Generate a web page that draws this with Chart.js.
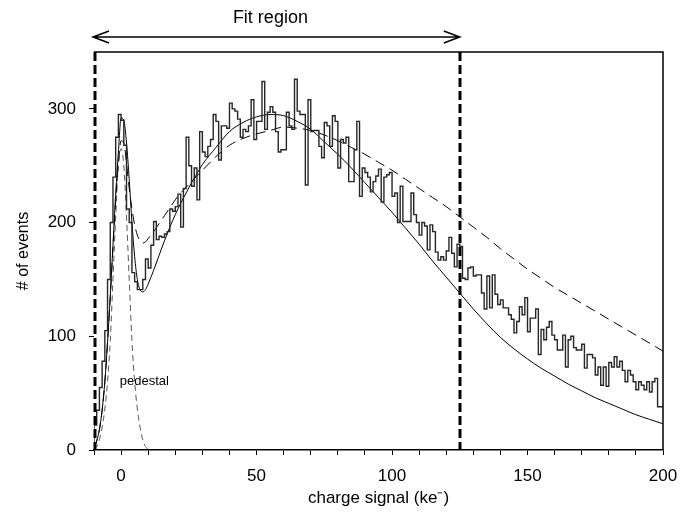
<!DOCTYPE html>
<html>
<head>
<meta charset="utf-8">
<script src="https://cdn.jsdelivr.net/npm/chart.js@4.4.1/dist/chart.umd.min.js"></script>
<style>
  html, body { margin: 0; padding: 0; background: #fff; }
  #wrap { width: 680px; height: 518px; position: relative; }
</style>
</head>
<body>
<div id="wrap"><canvas id="c" width="680" height="518"></canvas></div>
<script>
// ---- Data ----
// Histogram: counts per 1 ke- bin, bins starting at -10 ke-
const binStart = -10;
const binWidth = 1;
const counts = [
  8, 22, 35, 55, 78, 105, 150, 200, 240, 275,          // -10 .. -1
  295, 290, 268, 212, 200, 156, 148, 141, 141, 150,    // 0 .. 9
  168, 160, 180, 201, 185, 188, 187, 190, 192, 212,    // 10 .. 19
  210, 214, 225, 196, 230, 275, 250, 232, 248, 220,    // 20 .. 29
  280, 262, 258, 267, 273, 295, 289, 255, 285, 285,    // 30 .. 39
  283, 305, 300, 298, 291, 275, 282, 280, 285, 308,    // 40 .. 49
  273, 289, 289, 324, 282, 297, 302, 297, 280, 262,    // 50 .. 59
  264, 264, 297, 285, 282, 326, 298, 295, 295, 233,    // 60 .. 69
  308, 280, 281, 281, 267, 257, 288, 285, 267, 294,    // 70 .. 79
  289, 248, 273, 270, 275, 236, 236, 264, 289, 223,    // 80 .. 89
  248, 244, 240, 227, 236, 241, 247, 218, 240, 242,    // 90 .. 99
  244, 223, 226, 200, 232, 201, 201, 201, 226, 207,    // 100 .. 109
  200, 189, 200, 197, 176, 198, 192, 174, 167, 170,    // 110 .. 119
  167, 175, 187, 173, 161, 181, 179, 151, 150, 160,    // 120 .. 129
  161, 153, 154, 154, 138, 124, 153, 125, 154, 137,    // 130 .. 139
  128, 132, 125, 125, 119, 115, 103, 113, 126, 119,    // 140 .. 149
  134, 104, 116, 116, 124, 84, 106, 97, 108, 113,      // 150 .. 159
  101, 97, 88, 88, 101, 73, 97, 100, 90, 88,           // 160 .. 169
  88, 93, 72, 84, 84, 81, 66, 73, 57, 73,              // 170 .. 179
  56, 77, 73, 82, 73, 78, 70, 60, 70, 66,              // 180 .. 189
  60, 53, 60, 57, 53, 60, 51, 60, 63, 38               // 190 .. 199
];

// Fit curves (solid and dashed), sampled
const fitX = [-10,-9,-8,-7,-6,-5,-4,-3,-2,-1,0,1,2,3,4,5,6,7,8,9,10,12,14,16,18,20,22,24,26,28,30,35,40,45,50,55,60,65,70,75,80,85,90,95,100,105,110,115,120,125,130,135,140,145,150,155,160,165,170,175,180,185,190,195,200];
const fitSolid = [2,8,18,35,60,95,135,180,225,262,292,290,270,238,200,170,150,141,139,141,146,158,171,184,196,207,217,226,235,243,251,266,280,288,293,295,294,289,282,271,260,248,235,222,209,195,181,166,152,138,124,111,99,89,80,72,65,58,52,46,41,36,31,27,23];
const fitDashed = [2,8,18,35,60,95,135,178,220,252,272,270,252,230,212,198,189,184,182,183,186,192,199,206,213,220,226,231,236,241,246,258,268,274,278,281,284,283,281,277,272,266,260,253,246,238,230,222,214,205,196,187,177,168,159,151,143,136,129,122,115,108,101,94,87];

// Pedestal component
const pedX = [-10,-9,-8,-7,-6,-5,-4,-3,-2,-1,0,1,2,3,4,5,6,7,8,9,10,11];
const pedY = [1,3,9,20,36,60,96,150,205,250,265,250,205,150,96,60,36,20,9,3,1,0];

// Axis ticks / labels
const xRange = [-10, 200];
const yRange = [0, 350];
const xLabelValues = [0, 50, 100, 150, 200];
const xMinorStep = 10;
const yTickValues = [0, 100, 200, 300];
const fitRegion = [-10, 125];
const fitRegionLabel = 'Fit region';
const pedestalLabel = 'pedestal';
const pedestalLabelAt = [1, 60];

// ---- Build datasets ----
const histPts = counts.map((c, i) => ({ x: binStart + i * binWidth, y: c }));
histPts.unshift({ x: binStart, y: 0 });
histPts.push({ x: binStart + counts.length * binWidth, y: counts[counts.length - 1] });

const pair = (xs, ys) => xs.map((x, i) => ({ x: x, y: ys[i] }));

const FONT = '"Liberation Sans", Arial, Helvetica, sans-serif';

const overlay = {
  id: 'overlay',
  afterDatasetsDraw(chart) {
    const { ctx, chartArea: a, scales: { x, y } } = chart;
    ctx.save();
    ctx.strokeStyle = '#000';
    // top & right frame
    ctx.lineWidth = 1.5;
    ctx.beginPath();
    ctx.moveTo(a.left, a.top);
    ctx.lineTo(a.right, a.top);
    ctx.lineTo(a.right, a.bottom);
    ctx.stroke();
    // fit region dashed lines
    ctx.lineWidth = 3;
    ctx.setLineDash([9, 4]);
    fitRegion.forEach(v => {
      const px = Math.round(x.getPixelForValue(v)) + (v === xRange[0] ? 1 : 0);
      ctx.beginPath();
      ctx.moveTo(px, a.top);
      ctx.lineTo(px, a.bottom);
      ctx.stroke();
    });
    ctx.setLineDash([]);
    // arrow
    const x0 = x.getPixelForValue(fitRegion[0]) - 1;
    const x1 = x.getPixelForValue(fitRegion[1]);
    const ay = a.top - 15;
    ctx.lineWidth = 1.5;
    ctx.beginPath();
    ctx.moveTo(x0, ay); ctx.lineTo(x1, ay);
    ctx.moveTo(x0 + 16, ay - 6); ctx.lineTo(x0, ay); ctx.lineTo(x0 + 16, ay + 6);
    ctx.moveTo(x1 - 16, ay - 6); ctx.lineTo(x1, ay); ctx.lineTo(x1 - 16, ay + 6);
    ctx.stroke();
    // label
    ctx.fillStyle = '#000';
    ctx.font = '18px ' + FONT;
    ctx.textAlign = 'center';
    ctx.textBaseline = 'middle';
    ctx.fillText(fitRegionLabel, (x0 + x1) / 2 - 6, a.top - 34);
    // pedestal label
    ctx.font = '13px ' + FONT;
    ctx.textAlign = 'left';
    ctx.fillText(pedestalLabel, x.getPixelForValue(pedestalLabelAt[0]) - 4, y.getPixelForValue(pedestalLabelAt[1]));
    ctx.restore();
  }
};

new Chart(document.getElementById('c'), {
  type: 'line',
  data: {
    datasets: [
      { label: 'data', data: histPts, stepped: 'after', borderColor: '#262626', borderWidth: 1.4, pointRadius: 0, fill: false },
      { label: 'fit', data: pair(fitX, fitSolid), borderColor: '#000', borderWidth: 1, pointRadius: 0, cubicInterpolationMode: 'monotone', fill: false },
      { label: 'fit2', data: pair(fitX, fitDashed), borderColor: '#000', borderWidth: 1, borderDash: [10, 6], pointRadius: 0, cubicInterpolationMode: 'monotone', fill: false },
      { label: 'pedestal', data: pair(pedX, pedY), borderColor: '#444', borderWidth: 0.9, borderDash: [6, 4], pointRadius: 0, cubicInterpolationMode: 'monotone', fill: false }
    ]
  },
  options: {
    responsive: false,
    animation: false,
    devicePixelRatio: 1,
    layout: { padding: { top: 52, right: 17, left: 0, bottom: 0 } },
    plugins: { legend: { display: false }, tooltip: { enabled: false } },
    scales: {
      x: {
        type: 'linear', min: xRange[0], max: xRange[1],
        afterBuildTicks(s) {
          const t = [];
          for (let v = xRange[0]; v <= xRange[1]; v += xMinorStep) t.push({ value: v });
          s.ticks = t;
        },
        afterFit(s) { s.height = 68; s.paddingRight = 0; s.paddingLeft = 0; },
        grid: { drawOnChartArea: false, drawTicks: true, tickLength: 5, tickColor: '#000', tickWidth: 1 },
        border: { display: true, color: '#000', width: 1.5 },
        ticks: {
          autoSkip: false, maxRotation: 0, padding: 11, color: '#000',
          font: { family: FONT, size: 17 },
          callback: v => xLabelValues.includes(v) ? String(v) : ''
        },
        title: { display: true, text: 'charge signal (ke\u207B)', color: '#000', font: { family: FONT, size: 17 }, padding: { top: 0, bottom: 9 } }
      },
      y: {
        type: 'linear', min: yRange[0], max: yRange[1],
        afterBuildTicks(s) { s.ticks = yTickValues.map(v => ({ value: v })); },
        afterFit(s) { s.width = 94; s.paddingTop = 0; s.paddingBottom = 0; },
        grid: { drawOnChartArea: false, drawTicks: true, tickLength: 5, tickColor: '#000', tickWidth: 1 },
        border: { display: false },
        ticks: { autoSkip: false, padding: 13, color: '#000', font: { family: FONT, size: 17 } },
        title: { display: true, text: '# of events', color: '#000', font: { family: FONT, size: 16 }, padding: { top: 14, bottom: 0 } }
      }
    }
  },
  plugins: [overlay]
});
</script>
</body>
</html>
